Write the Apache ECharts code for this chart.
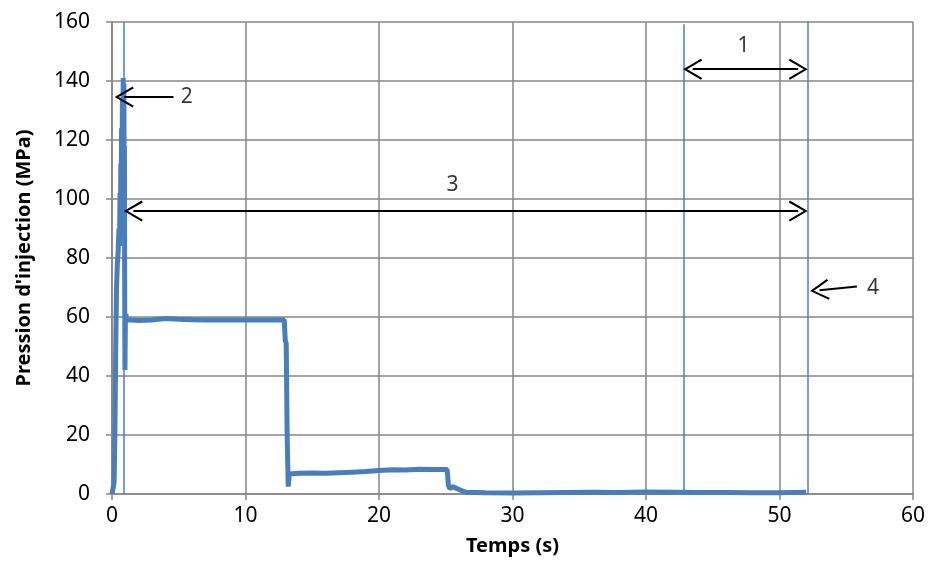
<!DOCTYPE html>
<html>
<head>
<meta charset="utf-8">
<script src="https://cdn.jsdelivr.net/npm/echarts@6/dist/echarts.min.js"></script>
<style>html,body{margin:0;padding:0;background:#fff}#c{width:930px;height:563px}</style>
</head>
<body>
<div id="c"></div>
<script>
// Time (s) and injection pressure (MPa)
const timeS = [0, 0.1, 0.16, 0.22, 0.28, 0.34, 0.4, 0.46, 0.52, 0.56, 0.6, 0.63, 0.66, 0.69, 0.72, 0.75, 0.78, 0.81, 0.84, 0.87, 0.89, 0.91, 0.93, 0.95, 0.97, 1.0, 1.04, 1.1, 1.5, 2, 3, 4, 5, 6, 7, 8, 9, 10, 11, 12, 12.9, 12.98, 13.05, 13.12, 13.2, 13.28, 13.4, 14, 15, 16, 17, 18, 19, 20, 21, 22, 23, 24, 25.1, 25.2, 25.3, 25.5, 26, 26.5, 28, 30, 32, 34, 36, 38, 40, 42, 44, 46, 48, 50, 52];
const pressureMPa = [0, 0, 4, 22, 50, 70, 78, 82, 90, 84, 102, 92, 112, 100, 124, 110, 134, 120, 141, 128, 139, 104, 118, 70, 42, 58, 61, 59, 59, 58.8, 59, 59.5, 59.2, 59.1, 59, 59, 59, 59, 59, 59, 59, 52, 51, 20, 2.5, 6.8, 7, 7, 7.1, 7, 7.2, 7.4, 7.6, 8, 8.2, 8.1, 8.4, 8.3, 8.3, 3, 1.8, 2.5, 1.5, 0.6, 0.4, 0.3, 0.4, 0.5, 0.6, 0.5, 0.7, 0.6, 0.5, 0.5, 0.4, 0.4, 0.6];
// Vertical marker lines (time, s)
const markerTimes = [0.9, 42.8, 52.1];
const markerTops = [160, 159.2, 160];
// Annotation arrows (arrow-head centres): [fromT, fromP] -> [toT, toP]
const arrowFromT = [43.5, 4.6, 1.6, 55.8];
const arrowFromP = [144, 134.6, 95.9, 70.3];
const arrowToT = [51.4, 0.92, 51.4, 53.0];
const arrowToP = [144, 134.6, 95.9, 69.1];
const arrowDouble = [true, false, true, false];
// Annotation labels
const labelText = ['1', '2', '3', '4'];
const labelT = [47.3, 5.6, 25.5, 57.0];
const labelP = [152, 134.6, 104.7, 69.8];
// Axis ticks
const xTicks = [0, 10, 20, 30, 40, 50, 60];
const yTicks = [0, 20, 40, 60, 80, 100, 120, 140, 160];

const blue = '#4a7ebb';
const chevron = 'path://M10.5,0 L21,17.4 L19.2,18.6 L10.5,3.8 L1.8,18.6 L0,17.4 Z';
const font = '"Noto Sans", "Open Sans", sans-serif';

const lineData = timeS.map((t, i) => [t, pressureMPa[i]]);
const markerLines = markerTimes.map((t, i) => [
  { coord: [t, 0], symbol: 'none' },
  { coord: [t, markerTops[i]], symbol: 'none' }
]);
const arrowLines = arrowFromT.map((t, i) => [
  { coord: [t, arrowFromP[i]], symbol: arrowDouble[i] ? chevron : 'none' },
  { coord: [arrowToT[i], arrowToP[i]], symbol: chevron }
]);
const labelData = labelT.map((t, i) => ({ value: [t, labelP[i]], name: labelText[i] }));

const chart = echarts.init(document.getElementById('c'));
chart.setOption({
  animation: false,
  backgroundColor: '#fff',
  grid: { left: 112, right: 17, top: 22, bottom: 69 },
  xAxis: {
    type: 'value', min: xTicks[0], max: xTicks[xTicks.length - 1], interval: 10,
    name: 'Temps (s)', nameLocation: 'middle', nameGap: 42,
    nameTextStyle: { fontFamily: font, fontSize: 20, fontWeight: 'bold', color: '#000' },
    axisLine: { show: true, lineStyle: { color: '#868686', width: 1.5 } },
    axisTick: { show: true, length: 6, lineStyle: { color: '#868686', width: 1.5 } },
    axisLabel: { fontFamily: font, fontSize: 21, color: '#000', margin: 12 },
    splitLine: { show: true, lineStyle: { color: '#868686', width: 1.5 } }
  },
  yAxis: {
    type: 'value', min: yTicks[0], max: yTicks[yTicks.length - 1], interval: 20,
    name: "Pression d'injection (MPa)", nameLocation: 'middle', nameGap: 78, nameRotate: 90,
    nameTextStyle: { fontFamily: font, fontSize: 20, fontWeight: 'bold', color: '#000' },
    axisLine: { show: true, lineStyle: { color: '#868686', width: 1.5 } },
    axisTick: { show: true, length: 6, lineStyle: { color: '#868686', width: 1.5 } },
    axisLabel: { fontFamily: font, fontSize: 21, color: '#000', margin: 22 },
    splitLine: { show: true, lineStyle: { color: '#868686', width: 1.5 } }
  },
  series: [
    {
      type: 'line', data: lineData, showSymbol: false, symbol: 'none',
      lineStyle: { color: blue, width: 5 }, z: 3,
      markLine: {
        silent: true, symbol: 'none', label: { show: false },
        lineStyle: { color: blue, width: 1.5, type: 'solid' },
        data: markerLines
      }
    },
    {
      type: 'line', data: [], clip: false,
      markLine: {
        silent: true, symbolSize: [21, 19], label: { show: false },
        lineStyle: { color: '#000', width: 2, type: 'solid' },
        itemStyle: { color: '#000' },
        data: arrowLines
      }, z: 5
    },
    {
      type: 'scatter', data: labelData, symbolSize: 0, clip: false, z: 6,
      label: {
        show: true, position: 'inside', formatter: p => p.name,
        fontFamily: font, fontSize: 21, color: '#000'
      }
    }
  ]
});
</script>
</body>
</html>
